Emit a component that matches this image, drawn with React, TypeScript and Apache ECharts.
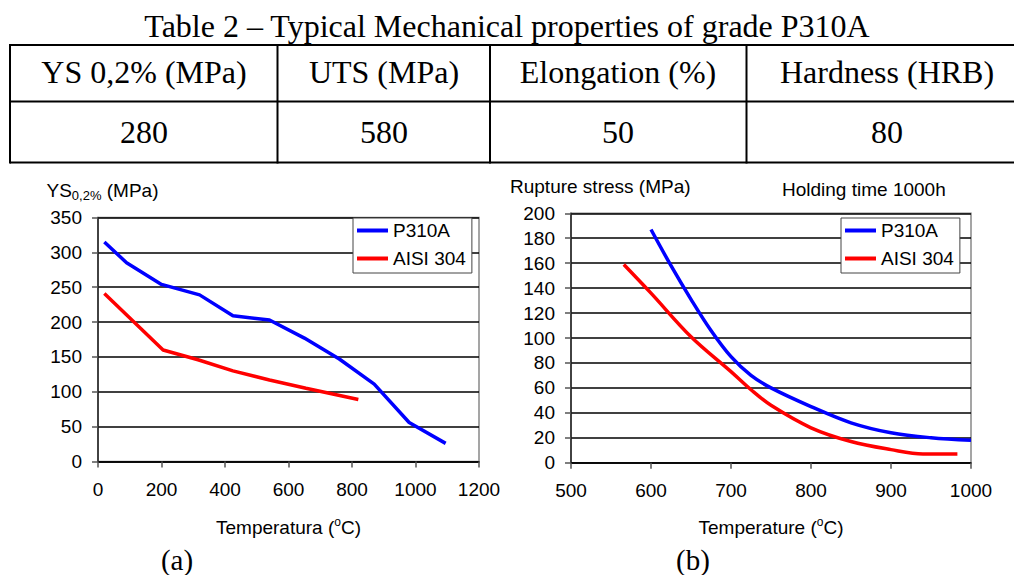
import React, { useEffect, useRef } from 'react';
import * as echarts from 'echarts';

const SANS = "'Liberation Sans', Arial, sans-serif";
const SERIF = "'Liberation Serif', 'Times New Roman', serif";

// ---- Table data ----
const tableTitle = 'Table 2 – Typical Mechanical properties of grade P310A';
const tableHeaders = ['YS 0,2% (MPa)', 'UTS (MPa)', 'Elongation (%)', 'Hardness (HRB)'];
const tableValues = ['280', '580', '50', '80'];

// ---- Series names ----
const seriesNames = ['P310A', 'AISI 304'];

// ---- Chart (a): yield strength vs temperature ----
const ysTempP310A = [20, 90, 200, 320, 425, 540, 650, 760, 870, 980, 1095];
const ysValP310A = [315, 285, 254, 239, 209, 203, 177, 147, 111, 56, 26];
const ysTemp304 = [20, 205, 315, 425, 540, 655, 820];
const ysVal304 = [241, 160, 146, 130, 117, 105, 89];

// ---- Chart (b): rupture stress (1000 h) vs temperature ----
const rsTempP310A = [600, 625, 650, 675, 700, 725, 750, 800, 850, 900, 950, 1000];
const rsValP310A = [187, 158, 131, 106, 85, 70, 60, 45, 32, 24, 20, 18];
const rsTemp304 = [566, 600, 650, 700, 725, 750, 800, 850, 900, 940, 983];
const rsVal304 = [159, 136, 101, 73, 58.5, 46, 28, 17, 10.5, 7, 7];

const zip = (xs: number[], ys: number[]) => xs.map((x, i) => [x, ys[i]]);

export default function App() {
  const ref = useRef<HTMLDivElement>(null);

  useEffect(() => {
    if (!ref.current) return;
    const chart = echarts.init(ref.current, undefined, { renderer: 'svg' });

    const axisLabel = (margin: number) => ({
      color: '#000',
      fontSize: 19,
      fontFamily: SANS,
      margin,
      formatter: (v: number) => String(v),
    });

    const xAxisCommon = {
      type: 'value' as const,
      axisLine: { show: true, onZero: false, lineStyle: { color: '#000', width: 1.5 } },
      axisTick: { show: true, length: 6, lineStyle: { color: '#555', width: 1.5 } },
      axisLabel: axisLabel(18),
      splitLine: { show: false },
    };
    const yAxisCommon = {
      type: 'value' as const,
      axisLine: { show: true, onZero: false, lineStyle: { color: '#222', width: 1.5 } },
      axisTick: { show: true, length: 6, lineStyle: { color: '#555', width: 1.5 } },
      axisLabel: axisLabel(16),
      splitLine: { show: true, lineStyle: { color: '#000', width: 1.5 } },
    };

    const legendCommon = {
      orient: 'vertical' as const,
      top: 218,
      data: seriesNames,
      icon: 'rect',
      itemWidth: 31,
      itemHeight: 4,
      itemGap: 9,
      padding: [3, 6, 5, 4],
      backgroundColor: '#fff',
      borderColor: '#444',
      borderWidth: 1,
      borderRadius: 0,
      selectedMode: false,
      textStyle: { color: '#000', fontSize: 19, fontFamily: SANS, lineHeight: 19 },
    };

    const lineSeries = (name: string, color: string, data: number[][], idx: number, smooth: boolean | number) => ({
      name,
      type: 'line' as const,
      xAxisIndex: idx,
      yAxisIndex: idx,
      data,
      smooth,
      showSymbol: false,
      symbol: 'none',
      color,
      itemStyle: { color },
      lineStyle: { color, width: 3.5 },
    });

    // table geometry
    const tTop = 45, tMid = 101.5, tBot = 162.5;
    const colX = [10, 277.5, 490, 746.5];
    const colCenters = [144, 384, 618, 887];
    const line = (x1: number, y1: number, x2: number, y2: number) => ({
      type: 'line',
      shape: { x1, y1, x2, y2 },
      style: { stroke: '#000', lineWidth: 2 },
      silent: true,
    });
    const txt = (text: string, x: number, y: number, fontSize: number, family: string, align = 'center') => ({
      type: 'text',
      x,
      y,
      style: {
        text,
        fill: '#000',
        fontSize,
        fontFamily: family,
        align,
        verticalAlign: 'middle',
      },
      silent: true,
    });

    const graphics: any[] = [
      txt(tableTitle, 507, 26, 32, SERIF),
      line(colX[0], tTop, 1014, tTop),
      line(colX[0], tMid, 1014, tMid),
      line(colX[0], tBot, 1014, tBot),
      ...colX.map((x) => line(x, tTop - 1, x, tBot + 1)),
      ...tableHeaders.map((h, i) => txt(h, colCenters[i], 72, 32, SERIF)),
      ...tableValues.map((v, i) => txt(v, colCenters[i], 132, 32, SERIF)),
      // axis titles
      {
        type: 'text',
        x: 46.5,
        y: 190,
        style: {
          text: '{a|YS}{b|0,2%}{a| (MPa)}',
          fill: '#000',
          align: 'left',
          verticalAlign: 'middle',
          rich: {
            a: { fontSize: 19, fontFamily: SANS, lineHeight: 24, verticalAlign: 'middle', fill: '#000' },
            b: { fontSize: 13, fontFamily: SANS, lineHeight: 13, verticalAlign: 'bottom', fill: '#000' },
          },
        },
        silent: true,
      },
      txt('Rupture stress (MPa)', 510, 186.5, 19, SANS, 'left'),
      txt('Holding time 1000h', 782, 189.5, 19, SANS, 'left'),
      ...[
        { t: 'Temperatura', cx: 288.5 },
        { t: 'Temperature', cx: 771 },
      ].map(({ t, cx }) => ({
        type: 'text',
        x: cx,
        y: 527,
        style: {
          text: `{a|${t} (}{s|o}{a|C)}`,
          fill: '#000',
          align: 'center',
          verticalAlign: 'middle',
          rich: {
            a: { fontSize: 19, fontFamily: SANS, lineHeight: 22, verticalAlign: 'middle', fill: '#000' },
            s: { fontSize: 12, fontFamily: SANS, lineHeight: 12, verticalAlign: 'top', fill: '#000' },
          },
        },
        silent: true,
      })),
      txt('(a)', 177, 560, 29, SERIF),
      txt('(b)', 693, 560, 29, SERIF),
    ];

    chart.setOption({
      animation: false,
      backgroundColor: '#fff',
      grid: [
        { left: 98, top: 217.5, width: 381, height: 244, show: true, borderColor: '#888', borderWidth: 1.5, backgroundColor: 'transparent' },
        { left: 571, top: 213.3, width: 400, height: 249.4, show: true, borderColor: '#888', borderWidth: 1.5, backgroundColor: 'transparent' },
      ],
      xAxis: [
        { ...xAxisCommon, gridIndex: 0, min: 0, max: 1200, interval: 200 },
        { ...xAxisCommon, gridIndex: 1, min: 500, max: 1000, interval: 100 },
      ],
      yAxis: [
        { ...yAxisCommon, gridIndex: 0, min: 0, max: 350, interval: 50 },
        { ...yAxisCommon, gridIndex: 1, min: 0, max: 200, interval: 20 },
      ],
      legend: [
        { ...legendCommon, left: 353 },
        { ...legendCommon, left: 841 },
      ],
      series: [
        lineSeries(seriesNames[0], '#0000ff', zip(ysTempP310A, ysValP310A), 0, false),
        lineSeries(seriesNames[1], '#ff0000', zip(ysTemp304, ysVal304), 0, false),
        lineSeries(seriesNames[0], '#0000ff', zip(rsTempP310A, rsValP310A), 1, 0.35),
        lineSeries(seriesNames[1], '#ff0000', zip(rsTemp304, rsVal304), 1, 0.35),
      ],
      graphic: { elements: graphics },
    });

    return () => chart.dispose();
  }, []);

  return (
    <div
      ref={ref}
      style={{ position: 'absolute', left: 0, top: 0, width: 1014, height: 575, background: '#fff' }}
    />
  );
}
